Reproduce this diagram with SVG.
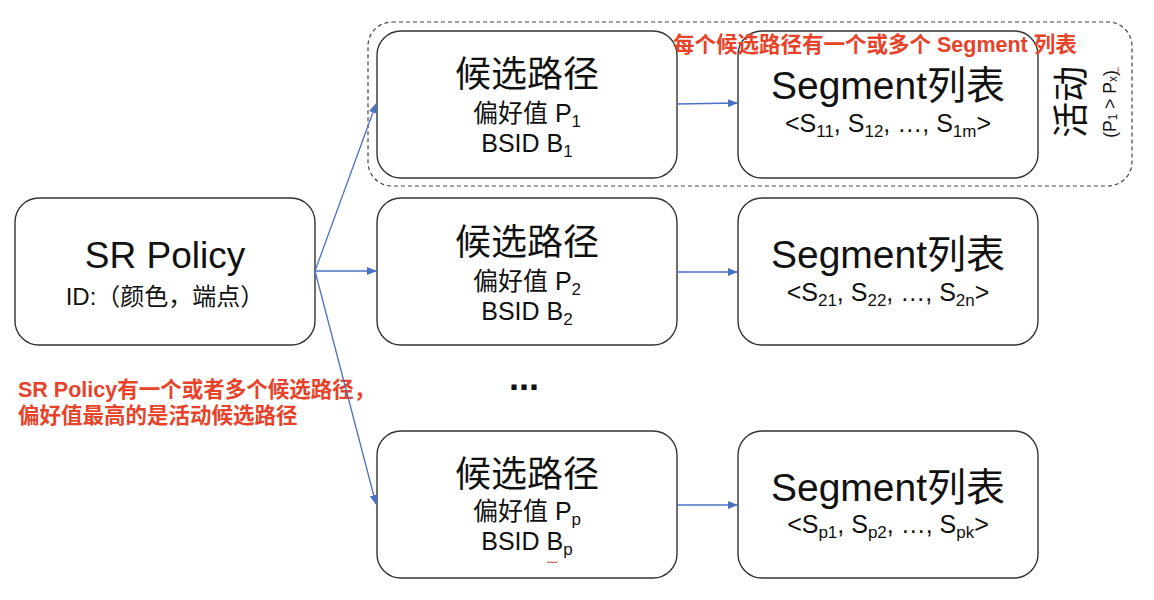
<svg xmlns="http://www.w3.org/2000/svg" width="1154" height="600" viewBox="0 0 1154 600">
<style>
.box{fill:#fff;stroke:#333;stroke-width:1.4}
.t{font-family:"Liberation Sans","Noto Sans CJK SC",sans-serif;fill:#111;text-anchor:middle}
.big{font-size:36px}
.mid{font-size:25px}
.seg{font-size:39px}
.sub{font-size:17px}
.red{font-family:"Liberation Sans","Noto Sans CJK SC",sans-serif;fill:#e8432a;font-weight:bold}
.con{stroke:#4a72c4;stroke-width:1.3;fill:none;marker-end:url(#arr)}
</style>
<defs>
<marker id="arr" markerWidth="10" markerHeight="8" refX="9" refY="4" orient="auto" markerUnits="userSpaceOnUse">
<path d="M0,0 L10,4 L0,8 Z" fill="#4a72c4"/>
</marker>
</defs>
<rect width="1154" height="600" fill="#fff"/>

<g id="active-group">
<rect x="368" y="22" width="764" height="164" rx="24" fill="none" stroke="#444" stroke-width="1.2" stroke-dasharray="4 3"/>
<text class="t" font-size="36" transform="translate(1071,102) rotate(-90)" dominant-baseline="central">活动</text>
<text class="t" font-size="17.5" transform="translate(1110,104) rotate(-90)" dominant-baseline="central">(P<tspan font-size="12" dy="3">1</tspan><tspan dy="-3"> &gt; P</tspan><tspan font-size="12" dy="3">x</tspan><tspan dy="-3">)</tspan></text>
<path d="M1119,67 l-1.5,1.5 l1.5,1.5 l-1.5,1.5 l1.5,1.5 l-1.5,1.5" fill="none" stroke="#e8432a" stroke-width="1"/>
</g>

<g id="sr-policy">
<rect class="box" x="15" y="198" width="300" height="147" rx="24"/>
<text class="t" x="165" y="268" font-size="37">SR Policy</text>
<text class="t" x="165" y="305" font-size="24">ID:（颜色，端点）</text>
</g>

<g id="candidate-1">
<rect class="box" x="377" y="31" width="300" height="147" rx="24"/>
<text class="t big" x="527" y="87">候选路径</text>
<text class="t mid" x="527" y="122">偏好值 P<tspan class="sub" dy="5">1</tspan></text>
<text class="t mid" x="527" y="152">BSID B<tspan class="sub" dy="5">1</tspan></text>
</g>
<g id="segment-1">
<rect class="box" x="738" y="31" width="300" height="147" rx="24"/>
<text class="t seg" x="888" y="99">Segment列表</text>
<text class="t mid" x="888" y="132">&lt;S<tspan class="sub" dy="5">11</tspan><tspan dy="-5">, S</tspan><tspan class="sub" dy="5">12</tspan><tspan dy="-5">, …, S</tspan><tspan class="sub" dy="5">1m</tspan><tspan dy="-5">&gt;</tspan></text>
</g>

<g id="candidate-2">
<rect class="box" x="377" y="198" width="300" height="147" rx="24"/>
<text class="t big" x="527" y="255">候选路径</text>
<text class="t mid" x="527" y="290">偏好值 P<tspan class="sub" dy="5">2</tspan></text>
<text class="t mid" x="527" y="320">BSID B<tspan class="sub" dy="5">2</tspan></text>
</g>
<g id="segment-2">
<rect class="box" x="738" y="198" width="300" height="147" rx="24"/>
<text class="t seg" x="888" y="268">Segment列表</text>
<text class="t mid" x="888" y="301">&lt;S<tspan class="sub" dy="5">21</tspan><tspan dy="-5">, S</tspan><tspan class="sub" dy="5">22</tspan><tspan dy="-5">, …, S</tspan><tspan class="sub" dy="5">2n</tspan><tspan dy="-5">&gt;</tspan></text>
</g>

<text class="t" x="524" y="390" font-size="36" font-weight="bold">...</text>

<g id="candidate-p">
<rect class="box" x="377" y="431" width="300" height="147" rx="24"/>
<text class="t big" x="527" y="487">候选路径</text>
<text class="t mid" x="527" y="520">偏好值 P<tspan class="sub" dy="5">p</tspan></text>
<text class="t mid" x="527" y="550">BSID B<tspan class="sub" dy="5">p</tspan></text>
<path d="M547,563 l1.5,-1.5 l1.5,1.5 l1.5,-1.5 l1.5,1.5 l1.5,-1.5 l1.5,1.5 l1.5,-1.5" fill="none" stroke="#e8432a" stroke-width="1"/>
</g>
<g id="segment-p">
<rect class="box" x="738" y="431" width="300" height="147" rx="24"/>
<text class="t seg" x="888" y="501">Segment列表</text>
<text class="t mid" x="888" y="533">&lt;S<tspan class="sub" dy="5">p1</tspan><tspan dy="-5">, S</tspan><tspan class="sub" dy="5">p2</tspan><tspan dy="-5">, …, S</tspan><tspan class="sub" dy="5">pk</tspan><tspan dy="-5">&gt;</tspan></text>
</g>

<g id="note">
<text class="red" x="18" y="397" font-size="21.5">SR Policy有一个或者多个候选路径，</text>
<text class="red" x="18" y="423" font-size="21.5">偏好值最高的是活动候选路径</text>
</g>

<g id="title">
<text class="red" x="673" y="52" font-size="21.5">每个候选路径有一个或多个 Segment 列表</text>
</g>

<g id="connectors">
<line class="con" x1="315" y1="271" x2="376" y2="104"/>
<line class="con" x1="315" y1="271" x2="376" y2="271"/>
<line class="con" x1="315" y1="271" x2="376" y2="504"/>
<line class="con" x1="677" y1="104" x2="737" y2="103"/>
<line class="con" x1="677" y1="272" x2="737" y2="272"/>
<line class="con" x1="677" y1="505" x2="737" y2="505"/>
</g>
</svg>
